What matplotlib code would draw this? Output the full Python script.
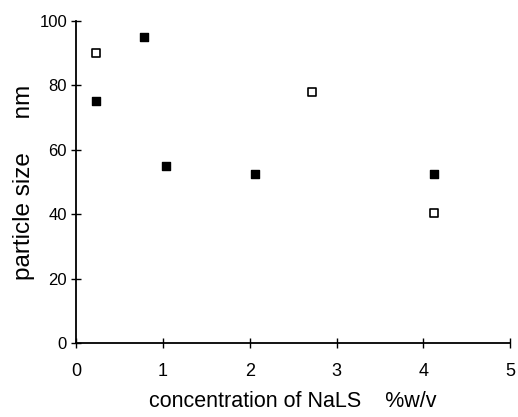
import matplotlib
matplotlib.use("Agg")
import matplotlib.pyplot as plt

filled_x = [0.23, 0.78, 1.04, 2.06, 4.12]
filled_y = [75, 95, 55, 52.5, 52.5]
open_x = [0.23, 2.72, 4.12]
open_y = [90, 78, 40.5]

xticks = [0, 1, 2, 3, 4, 5]
yticks = [0, 20, 40, 60, 80, 100]

plt.rcParams['font.family'] = ['Liberation Sans', 'DejaVu Sans']

fig = plt.figure(figsize=(5.18, 4.17), dpi=100)
ax = fig.add_axes([0.147, 0.177, 0.838, 0.773])

ax.scatter(open_x, open_y, marker='s', s=28, facecolors='white', edgecolors='black', linewidths=1.2, zorder=3)
ax.scatter(filled_x, filled_y, marker='s', s=36, color='black', zorder=4)

ax.set_xlim(0, 5)
ax.set_ylim(0, 100)
ax.set_xticks(xticks)
ax.set_yticks(yticks)
ax.tick_params(direction='inout', length=7, width=1)
ax.tick_params(axis='x', labelsize=13, pad=11)
ax.tick_params(axis='y', labelsize=12, pad=3)
for s in ['top', 'right']:
    ax.spines[s].set_visible(False)
for s in ['left', 'bottom']:
    ax.spines[s].set_linewidth(1.3)

ax.set_xlabel('concentration of NaLS    %w/v', fontsize=15.5, labelpad=8)
ax.set_ylabel('particle size     nm', fontsize=17.5, labelpad=3)

fig.savefig('out.png', dpi=100)
